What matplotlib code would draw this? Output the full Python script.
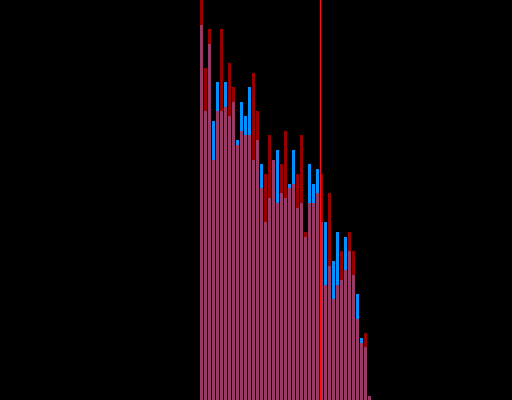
import numpy as np
import matplotlib
matplotlib.use("Agg")
import matplotlib.pyplot as plt

# bin heights (two overlapping histograms)
bins = np.arange(43)
blue_counts = [375, 289, 356, 279, 318, 289, 318, 284, 298, 260,
               298, 284, 313, 240, 260, 236, 178, 202, 240, 250,
               207, 202, 216, 250, 192, 197, 163, 236, 216, 231,
               178, 178, 134, 139, 168, 120, 163, 149, 125, 106,
               62, 53, 4]
red_counts = [410, 332, 371, 240, 289, 371, 293, 337, 313, 255,
              269, 265, 265, 327, 289, 212, 226, 265, 240, 197,
              236, 269, 212, 216, 226, 265, 168, 197, 197, 207,
              226, 115, 207, 101, 115, 149, 130, 168, 149, 81,
              57, 67, 4]
mean_line = 30.1

fig = plt.figure(figsize=(5.12, 4.0), dpi=100, facecolor="black")
ax = fig.add_axes([0, 0, 1, 1])
ax.set_facecolor("black")

# blue histogram underneath, translucent red on top
ax.bar(bins, blue_counts, width=0.75, align="edge", color="#0090ff")
ax.bar(bins, red_counts, width=0.75, align="edge", color="#ff0000", alpha=0.6)
ax.axvline(mean_line, color="#ff1010", linewidth=1.0)

ax.set_xlim(-50, 78)
ax.set_ylim(0, 400)
ax.axis("off")

fig.savefig("out.png", dpi=100, facecolor="black")
